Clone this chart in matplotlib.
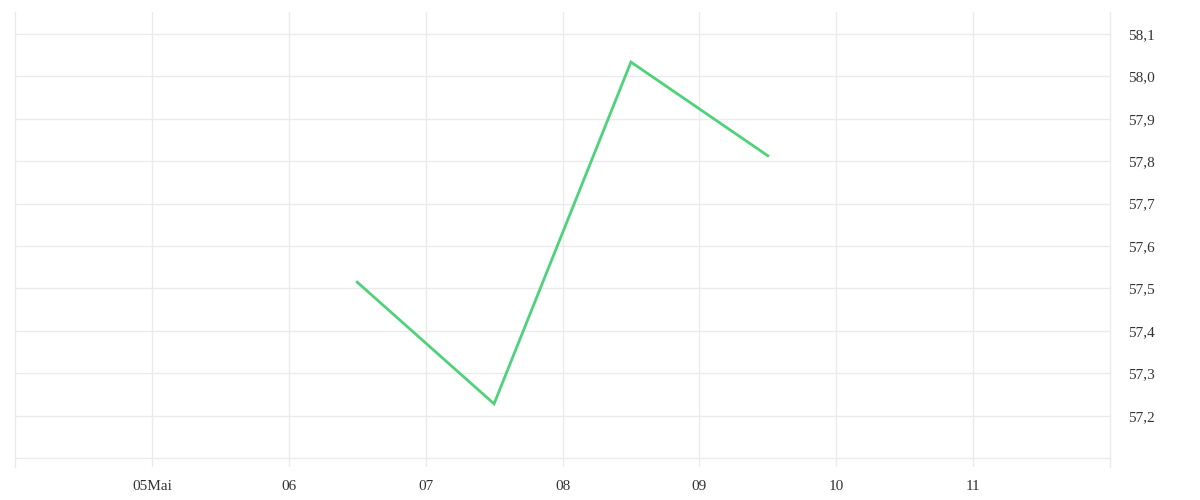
import pandas as pd
import numpy as np
import matplotlib
matplotlib.use('Agg')
import matplotlib.pyplot as plt
import matplotlib.dates as mdates

# daily values (plotted at noon of each day)
dates = pd.to_datetime(['2024-05-06 12:00', '2024-05-07 12:00', '2024-05-08 12:00', '2024-05-09 12:00'])
values = [57.515, 57.228, 58.034, 57.813]

tick_days = pd.to_datetime(['2024-05-05', '2024-05-06', '2024-05-07', '2024-05-08',
                            '2024-05-09', '2024-05-10', '2024-05-11'])
tick_labels = ['05Mai', '06', '07', '08', '09', '10', '11']
y_ticks = [57.1, 57.2, 57.3, 57.4, 57.5, 57.6, 57.7, 57.8, 57.9, 58.0, 58.1]
y_labels = [''] + ['57,2', '57,3', '57,4', '57,5', '57,6', '57,7', '57,8', '57,9', '58,0', '58,1']

plt.rcParams['font.family'] = ['Liberation Serif', 'DejaVu Serif']

fig = plt.figure(figsize=(12, 5), dpi=100)
ax = fig.add_axes([15/1200, 33/500, 1095/1200, 455/500])

grid_c = '#ebebeb'
ax.plot(dates, values, color='#4fd27a', lw=2, solid_joinstyle='miter')

ax.set_xlim(pd.Timestamp('2024-05-04'), pd.Timestamp('2024-05-12'))
ax.set_ylim(57.079, 58.152)
ax.set_xticks(tick_days)
ax.set_xticklabels(tick_labels)
ax.set_yticks(y_ticks)
ax.set_yticklabels(y_labels)
ax.yaxis.tick_right()

ax.grid(True, color=grid_c, lw=1)
for s in ['top', 'bottom']:
    ax.spines[s].set_visible(False)
for s in ['left', 'right']:
    ax.spines[s].set_color(grid_c)
    ax.spines[s].set_linewidth(1)
ax.tick_params(axis='both', length=0, labelsize=11, colors='#333333')
ax.tick_params(axis='x', pad=9)
ax.tick_params(axis='y', pad=13)

fig.savefig('out.png', dpi=100)
